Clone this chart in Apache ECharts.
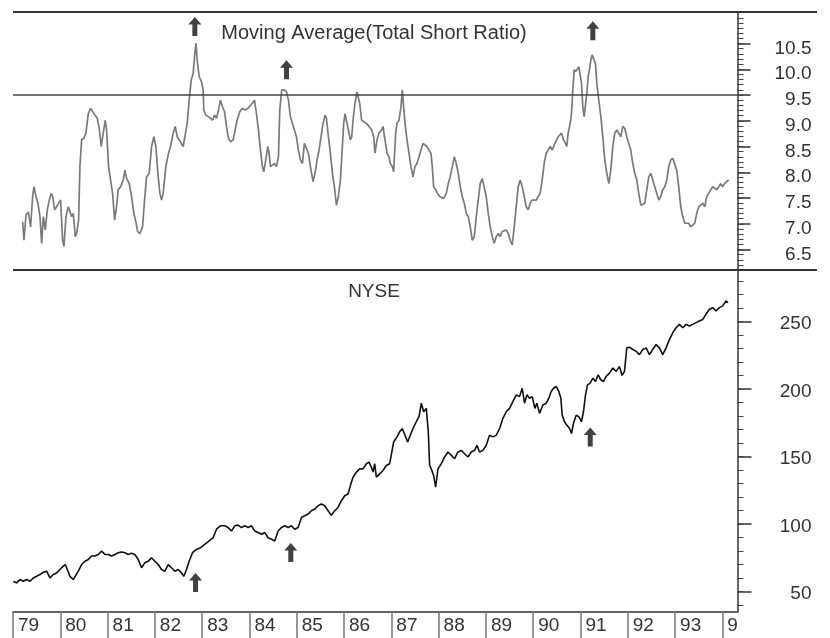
<!DOCTYPE html>
<html><head><meta charset="utf-8">
<script src="https://cdn.jsdelivr.net/npm/echarts@6/dist/echarts.min.js"></script>
<style>html,body{margin:0;padding:0;background:#fff}#c{width:830px;height:638px}</style>
</head><body><div id="c"></div>
<script>
// Moving Average (Total Short Ratio) — time (years) and values
const topDates = [1979.204,1979.232,1979.275,1979.324,1979.373,1979.415,1979.444,1979.486,1979.528,1979.570,1979.606,1979.641,1979.683,1979.725,1979.768,1979.810,1979.838,1979.880,1979.923,1979.965,1980.007,1980.049,1980.077,1980.120,1980.169,1980.204,1980.239,1980.275,1980.317,1980.345,1980.387,1980.415,1980.451,1980.500,1980.542,1980.592,1980.641,1980.683,1980.732,1980.782,1980.824,1980.866,1980.908,1980.951,1980.979,1981.021,1981.063,1981.106,1981.148,1981.190,1981.225,1981.275,1981.331,1981.366,1981.401,1981.458,1981.507,1981.556,1981.599,1981.634,1981.683,1981.739,1981.782,1981.824,1981.880,1981.930,1981.979,1982.021,1982.063,1982.106,1982.141,1982.176,1982.232,1982.289,1982.331,1982.387,1982.430,1982.472,1982.514,1982.556,1982.599,1982.641,1982.683,1982.725,1982.768,1982.810,1982.845,1982.870,
1982.894,1982.937,1982.986,1983.021,1983.035,1983.077,1983.127,1983.176,1983.218,1983.261,1983.303,1983.345,1983.387,1983.430,1983.472,1983.514,1983.556,1983.599,1983.655,1983.697,1983.739,1983.796,1983.852,1983.908,1983.965,1984.007,1984.063,1984.106,1984.148,1984.190,1984.232,1984.275,1984.303,1984.345,1984.387,1984.415,1984.444,1984.486,1984.528,1984.570,1984.613,1984.641,1984.683,1984.739,1984.782,1984.824,1984.866,1984.908,1984.951,1984.993,1985.035,1985.077,1985.120,1985.162,1985.204,1985.246,1985.289,1985.345,1985.387,1985.430,1985.472,1985.514,1985.556,1985.599,1985.627,1985.669,1985.711,1985.754,1985.796,1985.838,1985.880,1985.923,1985.965,1985.993,1986.021,1986.063,1986.092,1986.134,1986.162,1986.190,1986.232,1986.275,1986.331,1986.373,1986.415,1986.472,1986.528,1986.585,1986.627,1986.655,1986.697,1986.739,
1986.796,1986.824,1986.866,1986.908,1986.951,1986.979,1987.021,1987.049,1987.092,1987.120,1987.162,1987.204,1987.232,1987.261,1987.289,1987.331,1987.373,1987.415,1987.458,1987.500,1987.542,1987.585,1987.627,1987.669,1987.711,1987.754,1987.796,1987.838,1987.866,1987.894,1987.937,1987.979,1988.021,1988.063,1988.106,1988.162,1988.204,1988.246,1988.289,1988.331,1988.373,1988.415,1988.458,1988.500,1988.542,1988.585,1988.627,1988.669,1988.711,1988.754,1988.796,1988.838,1988.880,1988.923,1988.965,1989.007,1989.049,1989.092,1989.134,1989.176,1989.218,1989.261,1989.303,1989.345,1989.387,1989.430,1989.472,1989.514,1989.556,1989.599,1989.641,1989.683,1989.725,1989.768,1989.810,1989.852,1989.894,1989.937,1989.979,1990.021,1990.063,1990.106,1990.148,1990.190,1990.232,1990.275,1990.317,1990.359,1990.401,1990.458,1990.528,
1990.556,1990.599,1990.641,1990.683,1990.711,1990.739,1990.782,1990.810,1990.838,1990.866,1990.894,1990.923,1990.965,1990.993,1991.021,1991.049,1991.077,1991.106,1991.134,1991.162,1991.190,1991.218,1991.246,1991.289,1991.317,1991.345,1991.387,1991.430,1991.472,1991.514,1991.556,1991.599,1991.641,1991.683,1991.725,1991.768,1991.810,1991.852,1991.894,1991.937,1991.979,1992.021,1992.063,1992.106,1992.148,1992.190,1992.232,1992.275,1992.317,1992.359,1992.401,1992.444,1992.486,1992.528,1992.570,1992.613,1992.655,1992.697,1992.739,1992.782,1992.824,1992.866,1992.908,1992.951,1992.993,1993.035,1993.077,1993.120,1993.162,1993.204,1993.246,1993.289,1993.331,1993.373,1993.415,1993.458,1993.500,1993.542,1993.585,1993.627,1993.669,1993.711,1993.754,1993.796,1993.838,1993.880,1993.923,1993.965,1994.007,1994.049,1994.092,1994.134];
const topValues = [7.04,6.68,7.17,7.23,6.94,7.53,7.72,7.53,7.40,7.14,6.62,7.14,6.88,7.27,7.46,7.59,7.53,7.27,7.33,7.40,7.46,6.68,6.56,7.14,7.33,7.30,7.14,7.20,6.75,6.81,7.07,8.11,8.63,8.66,8.76,9.14,9.24,9.18,9.11,9.05,8.85,8.50,8.76,9.01,8.82,8.11,7.85,7.59,7.07,7.33,7.66,7.72,7.85,8.04,7.88,7.78,7.53,7.20,7.04,6.85,6.81,6.94,7.46,7.91,7.98,8.50,8.69,8.50,7.98,7.59,7.46,7.59,8.11,8.37,8.50,8.76,8.89,8.69,8.63,8.63,8.50,8.53,8.95,9.40,9.79,9.92,10.31,10.51,
10.18,9.86,9.76,9.60,9.21,9.11,9.08,9.05,9.01,9.11,9.05,9.21,9.40,9.27,9.18,8.89,8.66,8.59,8.63,8.82,9.01,9.18,9.24,9.21,9.24,9.27,9.34,9.40,9.14,8.82,8.43,8.11,8.01,8.24,8.50,8.37,8.11,8.14,8.17,8.11,8.30,9.21,9.60,9.60,9.56,9.40,9.08,8.95,8.82,8.69,8.43,8.24,8.17,8.56,8.53,8.37,8.11,7.82,7.98,8.24,8.43,8.69,8.95,9.11,9.05,8.69,8.37,7.98,7.72,7.36,7.53,7.85,8.50,8.95,9.14,8.95,8.82,8.63,8.69,9.01,9.34,9.56,9.34,9.01,8.98,8.95,8.89,8.82,8.69,8.37,8.63,8.76,
8.82,8.89,8.63,8.37,8.30,8.17,8.11,8.01,8.76,8.95,9.01,9.27,9.60,9.27,8.95,8.63,8.37,8.11,7.91,8.11,8.17,8.30,8.43,8.56,8.53,8.50,8.43,8.37,8.11,7.72,7.66,7.59,7.53,7.56,7.49,7.59,7.78,7.91,8.11,8.30,8.17,7.98,7.72,7.53,7.40,7.20,7.14,6.94,6.68,6.75,7.14,7.46,7.78,7.88,7.85,7.53,7.20,6.94,6.75,6.62,6.75,6.81,6.75,6.85,6.85,6.88,6.81,6.68,6.59,6.94,7.33,7.72,7.85,7.72,7.53,7.33,7.27,7.40,7.46,7.43,7.46,7.53,7.59,7.85,8.17,8.37,8.43,8.50,8.43,8.56,8.69,
8.72,8.76,8.63,8.56,8.50,8.76,8.95,9.14,9.60,9.99,9.95,9.99,10.05,10.08,9.73,9.27,9.08,9.11,9.53,9.86,9.99,10.18,10.28,10.18,10.11,9.73,9.40,9.08,8.69,8.24,7.98,7.78,8.04,8.50,8.76,8.82,8.85,8.69,8.89,8.85,8.69,8.56,8.43,8.17,7.98,7.85,7.59,7.36,7.36,7.40,7.66,7.91,7.98,7.85,7.72,7.59,7.46,7.53,7.66,7.72,7.85,8.11,8.24,8.27,8.27,8.04,7.72,7.33,7.14,7.01,7.04,7.01,6.94,6.91,7.01,7.20,7.33,7.36,7.40,7.33,7.53,7.59,7.66,7.72,7.69,7.66,7.72,7.78,7.72,7.78,7.82,7.85];

// NYSE composite
const nyseDates = [1979.007,1979.077,1979.148,1979.218,1979.289,1979.359,1979.430,1979.500,1979.570,1979.641,1979.711,1979.782,1979.852,1979.923,1979.993,1980.063,1980.106,1980.148,1980.204,1980.275,1980.317,1980.380,1980.451,1980.521,1980.592,1980.662,1980.732,1980.803,1980.873,1980.944,1981.014,1981.085,1981.155,1981.225,1981.296,1981.366,1981.437,1981.507,1981.577,1981.648,1981.718,1981.789,1981.859,1981.930,1982.000,1982.070,1982.141,1982.211,1982.282,1982.352,1982.423,1982.493,1982.563,1982.613,1982.669,1982.725,1982.796,1982.880,1982.965,1983.056,1983.148,1983.232,1983.303,1983.387,1983.479,1983.549,1983.620,1983.690,1983.761,1983.831,1983.901,1983.972,1984.042,1984.113,1984.183,1984.254,1984.324,1984.394,1984.465,1984.535,1984.606,1984.676,1984.746,1984.817,1984.887,1984.958,1985.028,1985.099,1985.169,1985.239,1985.310,1985.380,1985.451,1985.521,1985.592,1985.662,1985.732,1985.803,1985.873,1985.944,1986.014,1986.085,1986.134,1986.190,1986.261,1986.331,1986.401,1986.472,1986.528,1986.577,1986.613,1986.648,1986.683,1986.754,1986.824,1986.894,1986.965,
1987.049,1987.120,1987.176,1987.232,1987.289,1987.345,1987.401,1987.458,1987.528,1987.585,1987.634,1987.683,1987.739,1987.782,1987.810,1987.845,1987.894,1987.937,1987.986,1988.056,1988.127,1988.197,1988.268,1988.338,1988.408,1988.479,1988.549,1988.620,1988.690,1988.761,1988.810,1988.866,1988.937,1989.007,1989.077,1989.148,1989.218,1989.289,1989.359,1989.430,1989.500,1989.570,1989.641,1989.711,1989.768,1989.817,1989.866,1989.923,1989.979,1990.035,1990.077,1990.134,1990.204,1990.275,1990.331,1990.380,1990.430,1990.486,1990.542,1990.585,1990.613,1990.662,1990.711,1990.768,1990.810,1990.852,1990.908,1990.965,1991.021,1991.063,1991.106,1991.148,1991.204,1991.261,1991.317,1991.373,1991.430,1991.486,1991.542,1991.613,1991.683,1991.754,1991.824,1991.880,1991.930,1991.979,1992.035,1992.106,1992.176,1992.246,1992.317,1992.387,1992.458,1992.528,1992.599,1992.669,1992.739,1992.810,1992.880,1992.951,1993.021,1993.092,1993.162,1993.232,1993.303,1993.373,1993.444,1993.514,1993.585,1993.655,1993.725,1993.796,1993.866,1993.937,1994.007,1994.077,1994.120];
const nyseValues = [57.7,56.5,59.0,57.7,59.0,57.7,60.2,61.4,62.7,64.4,65.2,60.2,62.7,63.9,66.4,68.9,70.1,66.4,61.4,59.0,60.2,65.2,70.1,72.6,73.9,76.4,76.4,77.6,80.1,77.6,77.6,76.4,77.6,78.9,79.4,78.9,77.6,78.4,77.6,73.9,67.7,71.4,72.6,75.1,72.6,70.1,66.4,65.2,70.1,67.7,65.2,66.4,63.9,61.4,66.4,72.6,78.9,81.3,82.6,85.1,87.6,90.0,96.3,98.8,98.8,97.5,95.0,98.8,99.3,97.5,98.8,97.5,98.8,95.0,93.8,92.5,93.8,90.0,88.8,87.6,95.0,97.5,98.8,97.5,98.8,96.3,97.5,105.0,106.2,107.5,110.0,111.2,113.7,114.9,113.7,110.0,106.7,110.0,112.4,117.4,121.1,122.4,128.6,134.8,138.6,141.0,141.0,144.8,146.0,142.3,138.6,144.8,134.8,137.3,139.8,143.5,144.8,
160.9,164.7,168.4,170.9,165.9,160.9,165.9,170.9,175.9,179.6,189.6,183.3,185.8,168.4,143.5,141.0,136.1,127.4,141.0,144.8,149.8,153.5,151.0,148.5,153.5,154.7,152.2,149.8,153.5,154.7,158.5,153.5,154.7,158.5,165.9,164.7,165.9,170.9,178.4,183.3,185.8,190.8,195.8,194.5,200.7,189.6,195.8,193.3,194.5,185.8,189.6,182.1,188.3,189.6,193.3,198.3,200.7,202.0,198.3,193.3,180.8,175.9,173.4,170.9,167.2,174.6,180.8,179.6,175.9,183.3,195.8,203.2,204.5,208.2,205.7,210.7,207.0,205.7,209.5,211.9,215.7,213.2,216.9,210.2,213.2,230.6,231.1,229.4,228.1,225.6,229.4,230.6,225.6,229.4,233.1,230.6,225.6,230.6,236.8,241.8,245.5,248.0,245.5,248.0,246.8,248.0,249.3,250.5,251.7,255.5,259.2,260.4,258.0,260.4,261.7,265.4,264.2];

// Axis ticks / labels
const yearTicks = [1979,1980,1981,1982,1983,1984,1985,1986,1987,1988,1989,1990,1991,1992,1993,1994];
const yearLabels = ['79','80','81','82','83','84','85','86','87','88','89','90','91','92','93','9'];
const ratioTicks = [6.5,7.0,7.5,8.0,8.5,9.0,9.5,10.0,10.5];
const nyseTicks = [50,100,150,200,250];
const refLevel = 9.5;

// Signal arrows
const arrowTopDates = [1982.845,1984.783,1991.261];
const arrowTopValues = [10.83,9.99,10.75];
const arrowNyseDates = [1982.86,1984.874,1991.206];
const arrowNyseValues = [56.8,79.1,164.6];

const ratioMinor = Array.from({length:50},(_,i)=>+(6.2+i*0.1).toFixed(1));
const nyseMinor = Array.from({length:25},(_,i)=>40+i*10);

const pairs = (xs, ys) => xs.map((x,i)=>[x, ys[i]]);
const arrowPath = 'path://M6.5,0L13,7.5L9,7.5L9,19L4,19L4,7.5L0,7.5Z';
const FONT = 'Liberation Sans, Arial, sans-serif';
const XMIN = 1979, XMAX = 1994.32;

const chart = echarts.init(document.getElementById('c'), null, {renderer:'canvas'});
chart.setOption({
  animation: false,
  backgroundColor: '#fff',
  textStyle: {fontFamily: FONT},
  title: [
    {text: 'Moving Average(Total Short Ratio)', left: 369, top: 18, textAlign: 'center',
     textStyle: {fontSize: 20, fontWeight: 'normal', color: '#333', fontFamily: FONT}},
    {text: 'NYSE', left: 369, top: 277, textAlign: 'center',
     textStyle: {fontSize: 19, fontWeight: 'normal', color: '#333', fontFamily: FONT}}
  ],
  grid: [
    {left: 13, top: 12, width: 724.5, height: 258, containLabel: false, outerBoundsMode: 'none'},
    {left: 13, top: 270, width: 724.5, height: 342, containLabel: false, outerBoundsMode: 'none'}
  ],
  xAxis: [
    {type: 'value', gridIndex: 0, min: XMIN, max: XMAX, show: false},
    {type: 'value', gridIndex: 1, min: XMIN, max: XMAX,
     axisLine: {show: true, lineStyle: {color: '#333', width: 1.5}},
     axisTick: {show: true, customValues: yearTicks, length: 26, lineStyle: {color: '#777', width: 1.5}},
     axisLabel: {show: true, customValues: yearTicks, align: 'left', margin: 4, padding: [0,0,0,5],
       fontSize: 19, color: '#333', fontFamily: FONT,
       formatter: v => yearLabels[yearTicks.indexOf(Math.round(v))] || ''},
     splitLine: {show: false}}
  ],
  yAxis: [
    {type: 'value', gridIndex: 0, position: 'right', min: 6.102, max: 11.112,
     axisLine: {show: true, lineStyle: {color: '#333', width: 1.5}},
     axisTick: {show: true, customValues: ratioTicks, inside: false, length: 13, lineStyle: {color: '#333', width: 1.5}},
     axisLabel: {show: true, customValues: ratioTicks, align: 'right', margin: 74,
       verticalAlign: 'top', lineHeight: 10,
       fontSize: 19, color: '#333', fontFamily: FONT, formatter: v => v.toFixed(1)},
     splitLine: {show: false}},
    {type: 'value', gridIndex: 0, position: 'right', min: 6.102, max: 11.112,
     axisLine: {show: false},
     axisTick: {show: true, customValues: ratioMinor, length: 6, lineStyle: {color: '#444', width: 1}},
     axisLabel: {show: false}, splitLine: {show: false}},
    {type: 'value', gridIndex: 1, position: 'right', min: 34.96, max: 288.3,
     axisLine: {show: true, lineStyle: {color: '#333', width: 1.5}},
     axisTick: {show: true, customValues: nyseTicks, length: 14, lineStyle: {color: '#333', width: 1.5}},
     axisLabel: {show: true, customValues: nyseTicks, align: 'right', margin: 74,
       verticalAlign: 'top', lineHeight: 5,
       fontSize: 19, color: '#333', fontFamily: FONT},
     splitLine: {show: false}},
    {type: 'value', gridIndex: 1, position: 'right', min: 34.96, max: 288.3,
     axisLine: {show: false},
     axisTick: {show: true, customValues: nyseMinor, length: 6, lineStyle: {color: '#444', width: 1}},
     axisLabel: {show: false}, splitLine: {show: false}}
  ],
  graphic: [
    {type: 'line', shape: {x1: 13, y1: 12, x2: 817, y2: 12}, style: {stroke: '#333', lineWidth: 2}, z: 100},
    {type: 'line', shape: {x1: 13, y1: 270, x2: 817, y2: 270}, style: {stroke: '#333', lineWidth: 2}, z: 100}
  ],
  series: [
    {type: 'line', xAxisIndex: 0, yAxisIndex: 0, data: pairs(topDates, topValues),
     showSymbol: false, symbol: 'none', lineStyle: {color: '#7a7a7a', width: 1.7},
     markLine: {silent: true, symbol: ['none','none'], label: {show: false},
       lineStyle: {color: '#444', width: 1.5, type: 'solid'}, data: [{yAxis: refLevel}]}},
    {type: 'line', xAxisIndex: 1, yAxisIndex: 2, data: pairs(nyseDates, nyseValues),
     showSymbol: false, symbol: 'none', lineStyle: {color: '#111', width: 1.6}},
    {type: 'scatter', xAxisIndex: 0, yAxisIndex: 0, data: pairs(arrowTopDates, arrowTopValues),
     symbol: arrowPath, symbolSize: [13, 19], itemStyle: {color: '#111'}, silent: true, z: 10},
    {type: 'scatter', xAxisIndex: 1, yAxisIndex: 2, data: pairs(arrowNyseDates, arrowNyseValues),
     symbol: arrowPath, symbolSize: [13, 19], itemStyle: {color: '#111'}, silent: true, z: 10}
  ]
});
</script>
</body></html>
